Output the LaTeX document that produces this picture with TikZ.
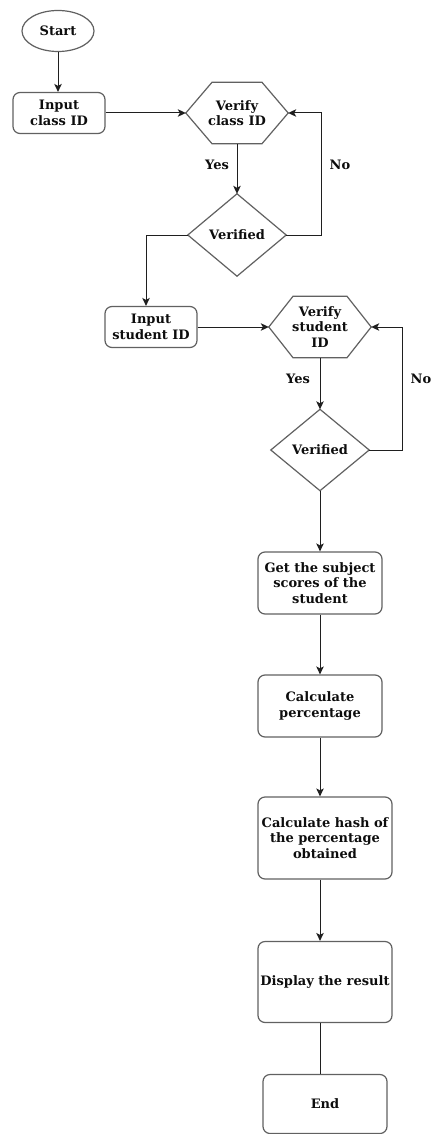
\documentclass[tikz,border=0pt]{standalone}
\usepackage{fontspec}
\setmainfont{DejaVu Serif}
\usetikzlibrary{shapes.geometric,arrows.meta}

\tikzset{
  label text/.style={font=\bfseries\fontsize{13}{15.5}\selectfont, align=center, text=black!95},
  outline/.style={draw=black!62, line width=1.2pt},
  stepbox/.style={label text, outline, rounded corners=7pt, inner sep=0pt,
    minimum width=#1},
  stepbox/.default=92pt,
  plainnode/.style={label text, inner sep=0pt},
  flow/.style={draw=black!88, line width=1pt},
  arrowflow/.style={flow, -{Stealth[length=8pt,width=7.5pt,inset=2pt]}},
}

\begin{document}
\begin{tikzpicture}[x=1pt,y=-1pt]
  \useasboundingbox[fill=white] (0,0) rectangle (433,1134);

  % start / class ID section
  \node[label text, outline, ellipse, inner sep=0pt, minimum width=72pt, minimum height=41pt] (start) at (58,31) {Start};
  \node[stepbox=92pt, minimum height=41pt] (in1) at (59,113) {Input\\class ID};
  \node[plainnode, minimum width=102pt, minimum height=61pt] (ver1) at (237,113) {Verify\\class ID};
  \node[plainnode, minimum width=98pt, minimum height=82pt] (dia1) at (237,235) {Verified};

  % student ID section
  \node[stepbox=92pt, minimum height=41pt] (in2) at (151,327) {Input\\student ID};
  \node[plainnode, minimum width=102pt, minimum height=61pt] (ver2) at (320,327) {Verify\\student\\ID};
  \node[plainnode, minimum width=98pt, minimum height=81pt] (dia2) at (320,450) {Verified};

  % processing steps
  \node[stepbox=124pt, minimum height=62pt] (get) at (320,583) {Get the subject\\scores of the\\student};
  \node[stepbox=124pt, minimum height=62pt] (calc) at (320,706) {Calculate\\percentage};
  \node[stepbox=134pt, minimum height=82pt] (hash) at (325,838) {Calculate hash of\\the percentage\\obtained};
  \node[stepbox=134pt, minimum height=81pt] (disp) at (325,982) {Display the result};
  \node[stepbox=124pt, minimum height=59pt] (end) at (325,1104) {End};

  % hexagon and diamond outlines
  \foreach \n/\t in {ver1/25, ver2/27} {
    \draw[outline] (\n.west) -- ([xshift=-\t pt]\n.north) -- ([xshift=\t pt]\n.north)
      -- (\n.east) -- ([xshift=\t pt]\n.south) -- ([xshift=-\t pt]\n.south) -- cycle;
  }
  \foreach \n in {dia1, dia2} {
    \draw[outline] (\n.north) -- (\n.east) -- (\n.south) -- (\n.west) -- cycle;
  }

  % branch labels
  \node[plainnode] (yes1) at (217,165) {Yes};
  \node[plainnode] (no1) at (340,165) {No};
  \node[plainnode] (yes2) at (298,379) {Yes};
  \node[plainnode] (no2) at (421,379) {No};

  % connectors
  \draw[arrowflow] (start.south) -- (start.south |- in1.north);
  \draw[arrowflow] (in1.east) -- (ver1.west);
  \draw[arrowflow] (ver1.south) -- (dia1.north);
  \draw[arrowflow] (dia1.east) -- ++(35,0) |- (ver1.east);
  \draw[arrowflow] (dia1.west) -| ([xshift=-5pt]in2.north);
  \draw[arrowflow] (in2.east) -- (ver2.west);
  \draw[arrowflow] (ver2.south) -- (dia2.north);
  \draw[arrowflow] (dia2.east) -- ++(33,0) |- (ver2.east);
  \draw[arrowflow] (dia2.south) -- (get.north);
  \draw[arrowflow] (get.south) -- (calc.north);
  \draw[arrowflow] (calc.south) -- (calc.south |- hash.north);
  \draw[arrowflow] (calc.south |- hash.south) -- (calc.south |- disp.north);
  \draw[flow] (calc.south |- disp.south) -- (calc.south |- end.north);
\end{tikzpicture}
\end{document}
